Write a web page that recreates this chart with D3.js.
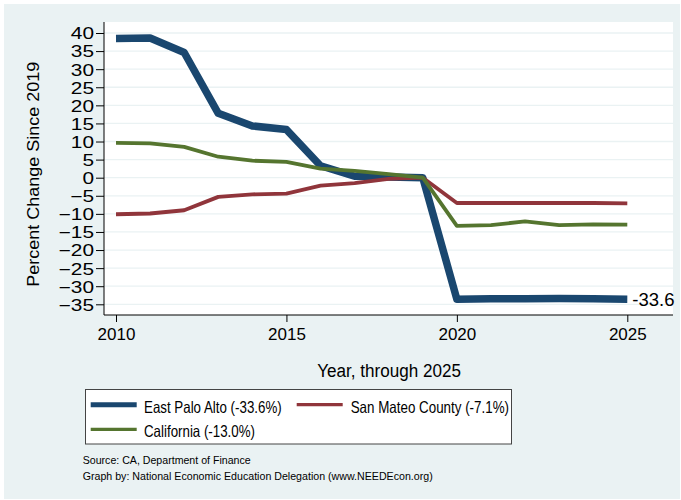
<!DOCTYPE html>
<html>
<head>
<meta charset="utf-8">
<script src="https://cdn.jsdelivr.net/npm/d3@7"></script>
<style>
  body { margin: 0; background: #fff; }
  text { font-family: "Liberation Sans", Arial, Helvetica, sans-serif; fill: #000; }
</style>
</head>
<body>
<div id="container"></div>
<script>
// data
var years = [2010, 2011, 2012, 2013, 2014, 2015, 2016, 2017, 2018, 2019, 2020, 2021, 2022, 2023, 2024, 2025];
var eastPaloAlto = [38.5, 38.6, 34.6, 17.8, 14.3, 13.3, 3.3, 0.4, 0.2, 0, -33.6, -33.5, -33.5, -33.4, -33.5, -33.6];
var sanMateo = [-10.1, -9.9, -9.0, -5.3, -4.6, -4.4, -2.2, -1.5, -0.3, 0, -7.0, -7.0, -7.0, -7.0, -7.0, -7.1];
var california = [9.6, 9.5, 8.5, 5.8, 4.7, 4.4, 2.5, 1.9, 1.0, 0, -13.3, -13.1, -12.1, -13.1, -12.9, -13.0];
var seriesNames = ["East Palo Alto", "San Mateo County", "California"];
var seriesColors = ["#1a476f", "#90353b", "#55752f"];
var yTicks = [-35, -30, -25, -20, -15, -10, -5, 0, 5, 10, 15, 20, 25, 30, 35, 40];
var xTicks = [2010, 2015, 2020, 2025];

var width = 681, height = 500;

var svg = d3.select("#container").append("svg")
  .attr("width", width)
  .attr("height", height);

// graph region
svg.append("rect")
  .attr("x", 4).attr("y", 4)
  .attr("width", 676).attr("height", 495)
  .attr("fill", "#eaf2f3");

// plot region
svg.append("rect")
  .attr("x", 104).attr("y", 22)
  .attr("width", 569).attr("height", 293)
  .attr("fill", "#fff");

var x = d3.scaleLinear().domain([2010, 2025]).range([116, 627.3]);
var y = d3.scaleLinear().domain([-35, 40]).range([304.3, 33]);

// gridlines
svg.append("g").selectAll("line")
  .data(yTicks)
  .enter()
  .append("line")
  .attr("x1", 104).attr("x2", 673)
  .attr("y1", function(d) { return y(d); })
  .attr("y2", function(d) { return y(d); })
  .attr("stroke", "#eaf2f3")
  .attr("stroke-width", 1.3);

// y axis
var yStretch = 1.28;
var yAxis = svg.append("g")
  .attr("transform", "translate(104,0)")
  .call(d3.axisLeft(y).tickValues(yTicks).tickSize(8).tickSizeOuter(0).tickFormat(d3.format("d")));
yAxis.select(".domain").attr("d", "M0,22V315").attr("stroke", "#000");
yAxis.selectAll(".tick line").attr("stroke", "#000");
yAxis.selectAll(".tick text")
  .attr("font-size", "16.3px")
  .attr("font-family", "'Liberation Sans', Arial, sans-serif")
  .attr("x", -10 / yStretch)
  .attr("dy", "0.36em")
  .attr("transform", "scale(" + yStretch + ",1)");

// x axis
var xAxis = svg.append("g")
  .attr("transform", "translate(0,315)")
  .call(d3.axisBottom(x).tickValues(xTicks).tickSize(7).tickSizeOuter(0).tickFormat(d3.format("d")));
xAxis.select(".domain").attr("d", "M104,0H673").attr("stroke", "#000");
xAxis.selectAll(".tick line").attr("stroke", "#000");
xAxis.selectAll(".tick text")
  .attr("font-size", "17px")
  .attr("font-family", "'Liberation Sans', Arial, sans-serif")
  .attr("y", 24.5)
  .attr("dy", 0);

// axis titles
svg.append("text")
  .attr("transform", "translate(38.7,174.2) rotate(-90)")
  .attr("text-anchor", "middle")
  .attr("font-size", "16px")
  .attr("textLength", 225)
  .attr("lengthAdjust", "spacingAndGlyphs")
  .text("Percent Change Since 2019");

svg.append("text")
  .attr("x", 317.3).attr("y", 376.5)
  .attr("font-size", "18px")
  .attr("textLength", 143.7)
  .attr("lengthAdjust", "spacingAndGlyphs")
  .text("Year, through 2025");

// lines
var seriesValues = [eastPaloAlto, sanMateo, california];
var seriesWidths = [7.5, 3.8, 3.8];
var line = d3.line()
  .x(function(d) { return x(d[0]); })
  .y(function(d) { return y(d[1]); });

seriesValues.forEach(function(vals, i) {
  svg.append("path")
    .datum(d3.zip(years, vals))
    .attr("d", line)
    .attr("fill", "none")
    .attr("stroke", seriesColors[i])
    .attr("stroke-width", seriesWidths[i])
    .attr("stroke-linejoin", "round");
});

// end label for East Palo Alto
var lastYear = years[years.length - 1];
var lastEPA = eastPaloAlto[eastPaloAlto.length - 1];
svg.append("text")
  .attr("x", x(lastYear) + 5)
  .attr("y", y(lastEPA))
  .attr("dy", "0.36em")
  .attr("font-size", "18.5px")
  .text(lastEPA.toFixed(1));

// legend
var legend = svg.append("g");
legend.append("rect")
  .attr("x", 85.5).attr("y", 389.5)
  .attr("width", 426).attr("height", 54.5)
  .attr("fill", "#fff")
  .attr("stroke", "#444")
  .attr("stroke-width", 1);

var legendPos = [
  { lx: 90.7, ly: 404.7, tx: 144, len: 137.7 },
  { lx: 296.7, ly: 404.7, tx: 350.7, len: 158.3 },
  { lx: 90.7, ly: 429.3, tx: 144, len: 111 }
];
var legendWidths = [5, 3.2, 3.2];

seriesNames.forEach(function(name, i) {
  var p = legendPos[i];
  var last = seriesValues[i][seriesValues[i].length - 1];
  legend.append("line")
    .attr("x1", p.lx).attr("x2", p.lx + 46)
    .attr("y1", p.ly).attr("y2", p.ly)
    .attr("stroke", seriesColors[i])
    .attr("stroke-width", legendWidths[i]);
  legend.append("text")
    .attr("x", p.tx).attr("y", p.ly + 7.8)
    .attr("font-size", "16.5px")
    .attr("textLength", p.len)
    .attr("lengthAdjust", "spacingAndGlyphs")
    .text(name + " (" + last.toFixed(1) + "%)");
});

// notes
svg.append("text")
  .attr("x", 82.7).attr("y", 464.3)
  .attr("font-size", "11.8px")
  .attr("textLength", 168)
  .attr("lengthAdjust", "spacingAndGlyphs")
  .text("Source: CA, Department of Finance");
svg.append("text")
  .attr("x", 82.7).attr("y", 479.7)
  .attr("font-size", "11.8px")
  .attr("textLength", 350)
  .attr("lengthAdjust", "spacingAndGlyphs")
  .text("Graph by: National Economic Education Delegation (www.NEEDEcon.org)");
</script>
</body>
</html>
